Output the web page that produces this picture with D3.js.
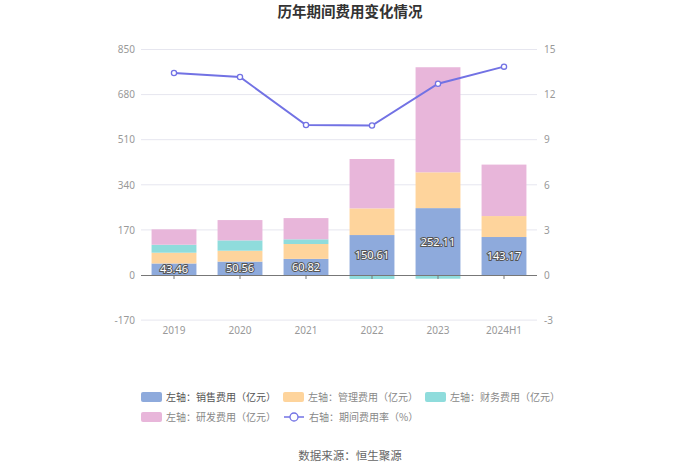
<!DOCTYPE html>
<html><head><meta charset="utf-8">
<script src="https://cdn.jsdelivr.net/npm/d3@7/dist/d3.min.js"></script>
<style>body{margin:0;background:#fff;}svg{display:block;font-family:"Noto Sans CJK SC","Noto Sans",sans-serif;}</style>
</head><body><svg id="c" width="700" height="474"></svg>
<script>
const categories = ["2019","2020","2021","2022","2023","2024H1"];
const salesExp = [43.46, 50.56, 60.82, 150.61, 252.11, 143.17];
const mgmtExp = [40.6, 41, 56, 100.6, 135, 79];
const finExp = [30, 39, 17.7, -15, -14, -1];
const rdExp = [58, 76.5, 80, 186, 396, 194];
const expRate = [13.44, 13.17, 9.98, 9.94, 12.72, 13.86];
const leftTicks = [-170, 0, 170, 340, 510, 680, 850];
const rightTicks = [-3, 0, 3, 6, 9, 12, 15];
const seriesNames = ["左轴：销售费用（亿元）","左轴：管理费用（亿元）","左轴：财务费用（亿元）","左轴：研发费用（亿元）","右轴：期间费用率（%）"];
const colors = ["#8eaadc","#fed49c","#8fdcdc","#e8b6da","#7272e4"];

const svg = d3.select("#c");
const x0 = 141, x1 = 537, yTop = 49.5, yZero = 275;
const x = d3.scaleBand().domain(categories).range([x0, x1]).paddingInner(0.32).paddingOuter(0.16);
const xc = d3.scalePoint().domain(categories).range([x0, x1]).padding(0.5);
const yL = d3.scaleLinear().domain([-170, 850]).range([yZero + (yZero - yTop) / 5, yTop]);
const yR = d3.scaleLinear().domain([-3, 15]).range([yZero + (yZero - yTop) / 5, yTop]);

// title
svg.append("text").attr("x", 350).attr("y", 17).attr("text-anchor", "middle")
  .attr("font-size", 14.5).attr("font-weight", "bold").attr("fill", "#333").text("历年期间费用变化情况");

// grid
svg.append("g").selectAll("line").data(leftTicks.filter(d => d !== 0)).join("line")
  .attr("x1", x0).attr("x2", x1).attr("y1", d => yL(d)).attr("y2", d => yL(d))
  .attr("stroke", "#e6e6ef").attr("stroke-width", 1);

// left axis labels
const axL = d3.axisLeft(yL).tickValues(leftTicks).tickFormat(d => String(d)).tickSize(0).tickPadding(6);
const gL = svg.append("g").attr("transform", `translate(${x0},0)`).call(axL);
gL.select(".domain").remove();
gL.selectAll("text").attr("fill", "#999").attr("font-size", 10).attr("font-family", "Noto Sans, sans-serif");

const axR = d3.axisRight(yR).tickValues(rightTicks).tickFormat(d => String(d)).tickSize(0).tickPadding(7);
const gR = svg.append("g").attr("transform", `translate(${x1},0)`).call(axR);
gR.select(".domain").remove();
gR.selectAll("text").attr("fill", "#999").attr("font-size", 10).attr("font-family", "Noto Sans, sans-serif");

// stacked bars
const rows = categories.map((c, i) => ({cat: c, s: salesExp[i], m: mgmtExp[i], f: finExp[i], r: rdExp[i]}));
const stack = d3.stack().keys(["s","m","f","r"]).offset(d3.stackOffsetDiverging);
const layers = stack(rows);
svg.append("g").selectAll("g").data(layers).join("g").attr("fill", (d, i) => colors[i])
  .selectAll("rect").data(d => d).join("rect")
  .attr("x", d => x(d.data.cat)).attr("width", x.bandwidth())
  .attr("y", d => yL(Math.max(d[0], d[1])))
  .attr("height", d => Math.abs(yL(d[0]) - yL(d[1])));

// x axis
const axX = d3.axisBottom(x).tickSize(4).tickPadding(48);
const gX = svg.append("g").attr("transform", `translate(0,${yZero})`).call(axX);
gX.select(".domain").attr("stroke", "#777").attr("d", `M${x0},0.5H${x1}`);
gX.selectAll("line").attr("stroke", "#777");
gX.selectAll("text").attr("fill", "#999").attr("font-size", 10).attr("font-family", "Noto Sans, sans-serif");

// value labels
svg.append("g").selectAll("text").data(layers[0]).join("text")
  .attr("x", d => x(d.data.cat) + x.bandwidth() / 2)
  .attr("y", d => (yL(d[0]) + yL(d[1])) / 2 + 4)
  .attr("text-anchor", "middle").attr("font-size", 11).attr("font-family", "Noto Sans, sans-serif")
  .attr("fill", "#fff").attr("stroke", "#555").attr("stroke-width", 2).attr("paint-order", "stroke")
  .text(d => d.data.s.toFixed(2));

// line
const line = d3.line().x((d, i) => xc(categories[i])).y(d => yR(d));
svg.append("path").datum(expRate).attr("d", line).attr("fill", "none").attr("stroke", colors[4]).attr("stroke-width", 2);
svg.append("g").selectAll("circle").data(expRate).join("circle")
  .attr("cx", (d, i) => xc(categories[i])).attr("cy", d => yR(d)).attr("r", 2.6)
  .attr("fill", "#fff").attr("stroke", colors[4]).attr("stroke-width", 1.3);

// legend
const legendPos = [[141, 397], [283, 397], [425, 397], [141, 417], [284, 417]];
const lg = svg.append("g");
seriesNames.forEach((n, i) => {
  const [lx, ly] = legendPos[i];
  if (i < 4) {
    lg.append("rect").attr("x", lx).attr("y", ly - 5).attr("width", 21).attr("height", 10).attr("rx", 2).attr("fill", colors[i]);
  } else {
    lg.append("line").attr("x1", lx).attr("x2", lx + 20).attr("y1", ly).attr("y2", ly).attr("stroke", colors[4]).attr("stroke-width", 1.5);
    lg.append("circle").attr("cx", lx + 10).attr("cy", ly).attr("r", 4).attr("fill", "#fff").attr("stroke", colors[4]).attr("stroke-width", 1.3);
  }
  lg.append("text").attr("x", lx + 25).attr("y", ly + 3.5).attr("font-size", 10)
    .attr("fill", i === 0 ? "#555" : "#888").text(n);
});

// source
svg.append("text").attr("x", 350).attr("y", 460).attr("text-anchor", "middle")
  .attr("font-size", 11.5).attr("fill", "#666").text("数据来源：恒生聚源");
</script></body></html>
